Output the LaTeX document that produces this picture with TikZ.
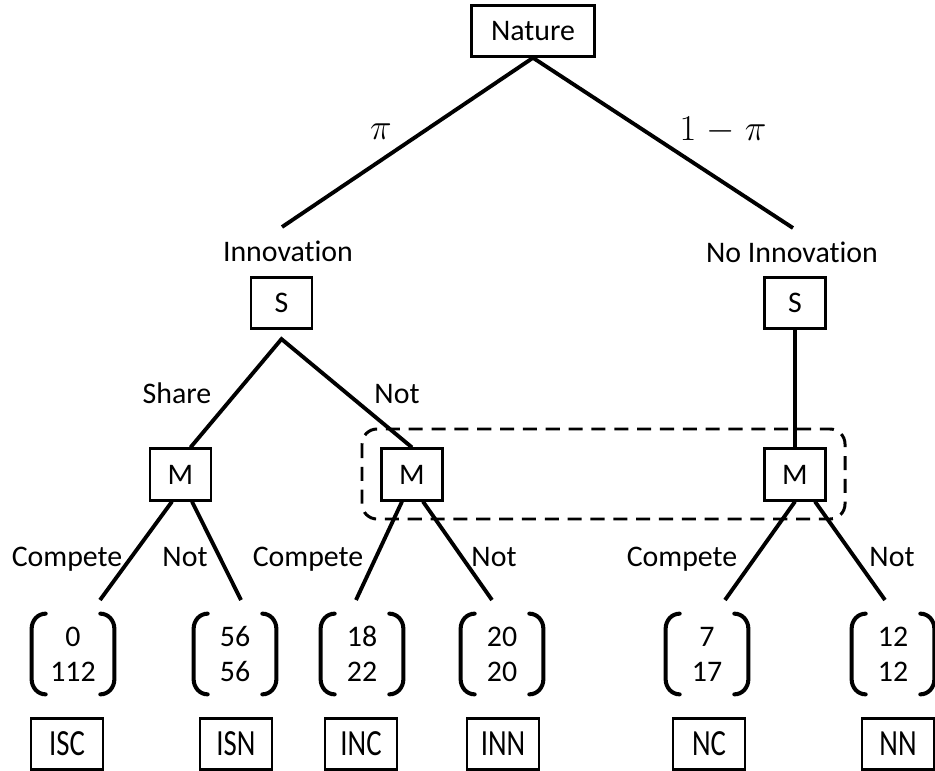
\documentclass[tikz,border=0pt]{standalone}
\usepackage{fontspec}
\setmainfont{Carlito}[Ligatures=NoCommon]
\newfontfamily\narrowfont{Carlito}[FakeStretch=0.78, Ligatures=NoCommon]
\usetikzlibrary{calc}
\begin{document}
\begin{tikzpicture}[
    box/.style={draw, line width=1.5pt, minimum width=1.22cm, minimum height=1.03cm, inner sep=0pt, font=\fontsize{17}{20}\selectfont},
    leaf/.style={box, minimum width=1.44cm, font=\narrowfont\fontsize{21}{24}\selectfont},
    lbl/.style={anchor=base, inner sep=0pt, font=\fontsize{17}{20}\selectfont},
    prob/.style={anchor=base, inner sep=0pt, font=\fontsize{22}{26}\selectfont},
    pay/.style={align=center, minimum width=1.64cm, minimum height=1.6cm, inner sep=0pt, font=\fontsize{17}{20}\selectfont},
    branch/.style={line width=2.2pt},
    paren/.style={line width=2.3pt, line cap=round},
    info/.style={line width=1.7pt, dash pattern=on 8pt off 5pt, rounded corners=0.3cm}
]
        \useasboundingbox (0,0) rectangle (18.7,-15.42);
        % decision nodes
        \node[box, minimum width=2.46cm, minimum height=1.02cm] (nature) at (10.66,-0.62) {Nature};
        \node[box] (s1) at (5.63,-6.06) {S};
        \node[box] (s2) at (15.9,-6.06) {S};
        \node[box] (m1) at (3.61,-9.49) {M};
        \node[box] (m2) at (8.24,-9.49) {M};
        \node[box] (m3) at (15.9,-9.49) {M};
        \node[lbl] (inno) at (5.76,-5.24) {Innovation};
        \node[lbl] (noinno) at (15.84,-5.26) {No Innovation};
        \node[prob] (pi) at (7.62,-2.8) {$\pi$};
        \node[prob] (notpi) at (14.46,-2.82) {$1\mskip1mu-\mskip1mu\pi$};
        % payoffs and outcomes
        \node[pay] (p1) at (1.46,-13.08) {0\\112};
        \node[pay] (p2) at (4.7,-13.08) {56\\56};
        \node[pay] (p3) at (7.24,-13.08) {18\\22};
        \node[pay] (p4) at (10.04,-13.08) {20\\20};
        \node[pay] (p5) at (14.14,-13.08) {7\\17};
        \node[pay] (p6) at (17.86,-13.08) {12\\12};
        \node[leaf] (isc) at (1.34,-14.88) {ISC};
        \node[leaf] (isn) at (4.72,-14.88) {ISN};
        \node[leaf] (inc) at (7.22,-14.88) {INC};
        \node[leaf] (inn) at (10.06,-14.88) {INN};
        \node[leaf] (nc) at (14.18,-14.88) {NC};
        \node[leaf] (nn) at (17.96,-14.88) {NN};
        \foreach \p in {p1,p2,p3,p4,p5,p6} {
            \draw[paren] ([xshift=0.28cm]\p.north west) to[out=180,in=90] ([yshift=-0.3cm]\p.north west)
                -- ([yshift=0.3cm]\p.south west) to[out=-90,in=180] ([xshift=0.28cm]\p.south west);
            \draw[paren] ([xshift=-0.28cm]\p.north east) to[out=0,in=90] ([yshift=-0.3cm]\p.north east)
                -- ([yshift=0.3cm]\p.south east) to[out=-90,in=0] ([xshift=-0.28cm]\p.south east);
        }
        % branches
        \coordinate (c1) at (5.64,-4.54);
        \coordinate (c2) at (15.86,-4.56);
        \draw[branch] (c1) -- (nature.south) -- (c2);
        \draw[branch] ([xshift=0.2cm]m1.north) -- ([yshift=-0.18cm]s1.south) -- (m2.north);
        \draw[branch] (s2.south) -- (m3.north);
        \coordinate (e1) at (2.0,-12);
        \coordinate (e2) at (4.82,-12);
        \coordinate (e3) at (7.12,-12);
        \coordinate (e4) at (9.84,-12);
        \coordinate (e5) at (14.5,-12);
        \coordinate (e6) at (17.7,-12);
        \draw[branch] ([xshift=-0.17cm]m1.south) -- (e1);
        \draw[branch] ([xshift=0.23cm]m1.south) -- (e2);
        \draw[branch] ([xshift=-0.2cm]m2.south) -- (e3);
        \draw[branch] ([xshift=0.22cm]m2.south) -- (e4);
        \draw[branch] (m3.south) -- (e5);
        \draw[branch] ([xshift=0.4cm]m3.south) -- (e6);
        \node[lbl] (share) at (3.54,-8.06) {Share};
        \node[lbl] (nots) at (7.94,-8.06) {Not};
        \node[lbl] (comp1) at (1.34,-11.32) {Compete};
        \node[lbl] (not1) at (3.7,-11.32) {Not};
        \node[lbl] (comp2) at (6.16,-11.32) {Compete};
        \node[lbl] (not2) at (9.88,-11.32) {Not};
        \node[lbl] (comp3) at (13.64,-11.32) {Compete};
        \node[lbl] (not3) at (17.84,-11.32) {Not};
        % information set
        \draw[info] (7.24,-8.58) rectangle (16.9,-10.38);
    \end{tikzpicture}
\end{document}
